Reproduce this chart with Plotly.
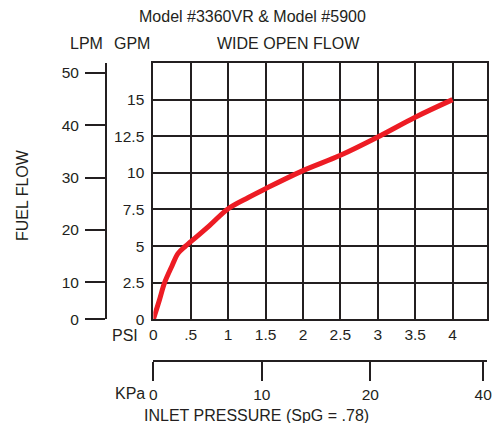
import plotly.graph_objects as go

# ---- data ----
psi = [0, 0.08, 0.15, 0.25, 0.33, 0.43, 0.5, 0.75, 1.0, 1.27, 1.5, 2.0, 2.5, 3.0, 3.5, 4.0]
gpm = [0, 1.3, 2.5, 3.66, 4.5, 5.0, 5.3, 6.4, 7.55, 8.32, 8.92, 10.15, 11.2, 12.45, 13.8, 15.0]

psi_ticks = [0, 0.5, 1, 1.5, 2, 2.5, 3, 3.5, 4]
psi_text = ["0", ".5", "1", "1.5", "2", "2.5", "3", "3.5", "4"]
gpm_ticks = [0, 2.5, 5, 7.5, 10, 12.5, 15]
gpm_text = ["0", "2.5", "5", "7.5", "10", "12.5", "15"]
lpm_ticks = [10, 20, 30, 40, 50]
lpm_text = ["0", "10", "20", "30", "40", "50"]
kpa_ticks = [0, 10, 20]
kpa_text = ["0", "10", "20", "40"]

PSI_MAX = 4.46
GPM_MAX = 17.5
LPM_RANGE = [2.94, 51.85]
KPA_PER_PSI = 6.895
KPA_END_TICK = 30.4

W, H = 501, 423
L, R, T, B = 106, 9, 63, 62
pw, ph = W - L - R, H - T - B
INK = "#231f20"
FAM = "Liberation Sans, Arial, sans-serif"
TICKFONT = dict(family=FAM, size=15.5, color=INK)
LABELFONT = dict(family=FAM, size=16, color=INK)


def px(x):
    return (x - L) / pw


def py(y):
    return (H - B - y) / ph


xdom = [px(154), 1]
ydom = [py(319.3), 1]

fig = go.Figure()
fig.add_trace(go.Scatter(x=psi, y=gpm, mode="lines", line=dict(color="#ed1c24", width=5),
                         line_shape="spline", line_smoothing=1.0,
                         showlegend=False, hoverinfo="skip"))
# invisible traces to activate secondary axes
fig.add_trace(go.Scatter(x=[None], y=[None], yaxis="y2", showlegend=False, hoverinfo="skip"))
fig.add_trace(go.Scatter(x=[None], y=[None], xaxis="x2", showlegend=False, hoverinfo="skip"))

fig.update_layout(
    width=W, height=H,
    margin=dict(l=L, r=R, t=T, b=B, pad=0),
    paper_bgcolor="white", plot_bgcolor="white",
    font=TICKFONT,
    xaxis=dict(domain=xdom, range=[0, PSI_MAX], tickvals=psi_ticks, ticktext=psi_text,
               showgrid=True, gridcolor=INK, gridwidth=2, zeroline=False,
               showline=True, linecolor=INK, linewidth=2, mirror=True,
               ticks="", ticklabelstandoff=0, anchor="y", tickfont=TICKFONT),
    yaxis=dict(domain=ydom, range=[0, GPM_MAX], tickvals=gpm_ticks, ticktext=gpm_text,
               showgrid=True, gridcolor=INK, gridwidth=2, zeroline=False,
               showline=True, linecolor=INK, linewidth=2, mirror=True,
               ticks="", ticklabelstandoff=4, anchor="x", tickfont=TICKFONT),
    yaxis2=dict(overlaying="y", anchor="free", position=0, side="left",
                range=LPM_RANGE, tickvals=[LPM_RANGE[0]] + lpm_ticks, ticktext=lpm_text,
                showgrid=False, zeroline=False, showline=True, linecolor=INK, linewidth=2,
                ticks="outside", ticklen=20, tickwidth=2, tickcolor=INK,
                ticklabelstandoff=3, tickfont=TICKFONT),
    xaxis2=dict(overlaying="x", anchor="free", position=0, side="bottom",
                range=[0, PSI_MAX * KPA_PER_PSI], tickvals=kpa_ticks + [KPA_END_TICK],
                ticktext=kpa_text, showgrid=False, zeroline=False,
                showline=True, linecolor=INK, linewidth=2,
                ticks="outside", ticklen=19, tickwidth=2, tickcolor=INK,
                ticklabelstandoff=0, tickfont=TICKFONT),
)

labels = [
    ("Model #3360VR & Model #5900", 254, 16.7, 0),
    ("LPM", 86, 43, 0),
    ("GPM", 132, 43, 0),
    ("WIDE OPEN FLOW", 291, 43, 0),
    ("FUEL FLOW", 21, 195, -90),
    ("PSI", 125, 335, 0),
    ("KPa", 130, 394, 0),
    ("INLET PRESSURE (SpG = .78)", 258, 415, 0),
]
for text, x, y, ang in labels:
    fig.add_annotation(text=text, x=px(x), y=py(y), xref="paper", yref="paper",
                       xanchor="center", yanchor="middle", showarrow=False,
                       textangle=ang, font=LABELFONT)

fig.write_html("out.html", config={"displayModeBar": False},
               post_script="document.body.style.margin='0';")
